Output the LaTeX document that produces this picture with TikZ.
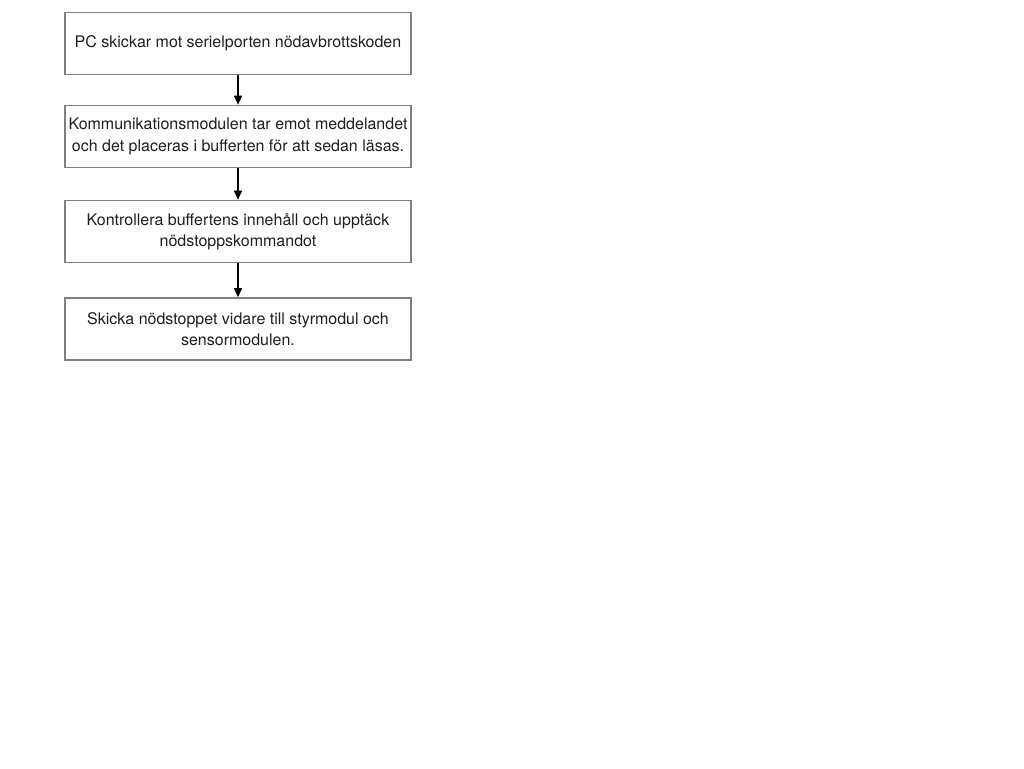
\documentclass[tikz,border=0pt]{standalone}
\usepackage{fontspec}
\setmainfont{TeX Gyre Heros}
\usetikzlibrary{arrows.meta}
\newlength{\du}
\setlength{\du}{1pt}
\tikzset{
  stepbox/.style={draw=boxline, fill=white, line width=1.6\du, minimum width=346\du,
    minimum height=62\du, align=center, inner sep=0pt,
    font=\fontsize{16}{21.5}\selectfont, text=textcol},
  flowarrow/.style={draw=black, line width=1.6\du, -{Triangle[length=9pt,width=8pt]}}
}
\begin{document}
\begin{tikzpicture}
\pgftransformxscale{1.000000}
\pgftransformyscale{-1.000000}
\definecolor{boxline}{rgb}{0.5, 0.5, 0.5}
\definecolor{textcol}{rgb}{0.12, 0.12, 0.12}
\useasboundingbox (0\du,0\du) rectangle (1024\du,768\du);
% boxes
\node[stepbox] (send) at (238\du,43.5\du){PC skickar mot serielporten nödavbrottskoden};
\node[stepbox] (receive) at (238\du,136.5\du){Kommunikationsmodulen tar emot meddelandet\\och det placeras i bufferten för att sedan läsas.};
\node[stepbox] (check) at (238\du,231.5\du){Kontrollera buffertens innehåll och upptäck\\nödstoppskommandot};
\node[stepbox] (forward) at (238\du,329\du){Skicka nödstoppet vidare till styrmodul och\\sensormodulen.};
% arrows
\draw[flowarrow] (send) -- (receive);
\draw[flowarrow] (receive) -- (check);
\draw[flowarrow] (check) -- (forward);
\end{tikzpicture}
\end{document}
